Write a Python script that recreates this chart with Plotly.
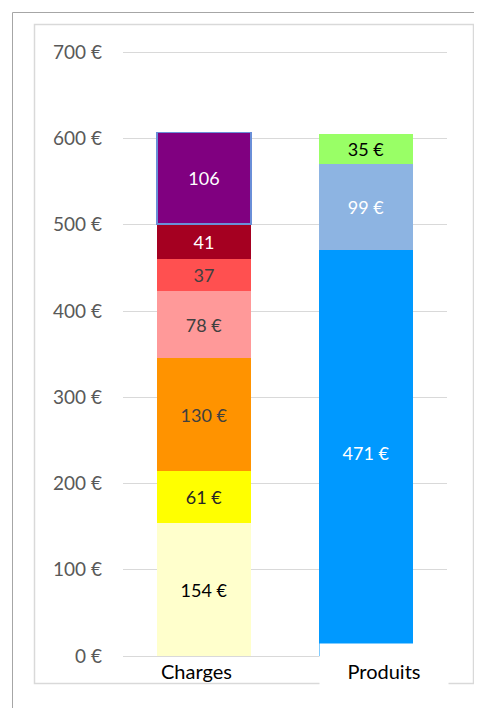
import plotly.graph_objects as go

categories = ["Charges", "Produits"]

charges_values = [154, 61, 130, 78, 37, 41, 106]
charges_labels = ["154 €", "61 €", "130 €", "78 €", "37", "41", "106"]
charges_colors = ["#FFFFCC", "#FFFF00", "#FF9300", "#FF9999", "#FF5050", "#A50021", "#800080"]
charges_text_colors = ["#000000", "#262626", "#404040", "#404040", "#404040", "#FFFFFF", "#FFFFFF"]

produits_values = [471, 99, 35]
produits_labels = ["471 €", "99 €", "35 €"]
produits_colors = ["#0099FF", "#8DB4E2", "#99FF66"]
produits_text_colors = ["#FFFFFF", "#FFFFFF", "#000000"]

y_ticks = [0, 100, 200, 300, 400, 500, 600, 700]
y_tick_labels = [f"{v} €" for v in y_ticks]

FONT = "Lato, Carlito, Calibri, sans-serif"

OFF = 8  # page body margin
W, H = 482 - OFF, 708 - OFF
L, R, T, B = 123 - OFF, 35, 40, 52
PW, PH = W - L - R, H - T - B
Y_MAX = 705

def px(x):
    return (x - OFF - L) / PW

def py(y):
    return (H - B - (y - OFF)) / PH

fig = go.Figure()

for v, lab, c, tc in zip(charges_values, charges_labels, charges_colors, charges_text_colors):
    fig.add_trace(go.Bar(
        x=[categories[0]], y=[v], text=[lab], marker_color=c,
        marker_line_width=1.2 if c == "#800080" else 0,
        marker_line_color="#6A8FD8",
        textposition="inside", insidetextanchor="middle", textangle=0,
        textfont=dict(color=tc, size=18, family=FONT),
        constraintext="none", width=0.58, showlegend=False, hoverinfo="skip",
    ))

for v, lab, c, tc in zip(produits_values, produits_labels, produits_colors, produits_text_colors):
    fig.add_trace(go.Bar(
        x=[categories[1]], y=[v], text=[lab], marker_color=c, marker_line_width=0,
        textposition="inside", insidetextanchor="middle", textangle=0,
        textfont=dict(color=tc, size=18, family=FONT),
        constraintext="none", width=0.58, showlegend=False, hoverinfo="skip",
    ))

fig.update_layout(
    barmode="stack",
    width=W, height=H,
    margin=dict(l=L, r=R, t=T, b=B, pad=0),
    paper_bgcolor="white", plot_bgcolor="white",
    font=dict(family=FONT, color="#595959"),
    xaxis=dict(showticklabels=False, showgrid=False, zeroline=False, showline=False,
               categoryorder="array", categoryarray=categories, range=[-0.5, 1.5]),
    yaxis=dict(range=[0, Y_MAX], tickvals=y_ticks, ticktext=y_tick_labels,
               showgrid=True, gridcolor="#D9D9D9", gridwidth=1,
               zeroline=True, zerolinecolor="#D9D9D9", zerolinewidth=1,
               showline=False, ticks="",
               ticklabelstandoff=20,
               tickfont=dict(size=19, color="#595959", family=FONT)),
    shapes=[
        dict(type="rect", xref="paper", yref="paper",
             x0=px(12.5), x1=px(520), y0=py(740), y1=py(12.5),
             line=dict(color="#A6A6A6", width=1), fillcolor="rgba(0,0,0,0)", layer="below"),
        dict(type="rect", xref="paper", yref="paper",
             x0=px(34.5), x1=px(473.5), y0=py(683.5), y1=py(24.5),
             line=dict(color="#D9D9D9", width=1.5), fillcolor="rgba(0,0,0,0)", layer="below"),
    ],
    annotations=[
        dict(text="Charges", xref="paper", yref="paper", x=px(196), y=py(671),
             xanchor="center", yanchor="middle", showarrow=False,
             font=dict(size=20, color="#000000", family=FONT)),
        dict(text="Produits", xref="paper", yref="paper", x=px(384), y=py(671),
             xanchor="center", yanchor="middle", showarrow=False,
             width=128, height=54, bgcolor="white", borderpad=0,
             font=dict(size=20, color="#000000", family=FONT)),
    ],
)

fig.write_html("out.html")
